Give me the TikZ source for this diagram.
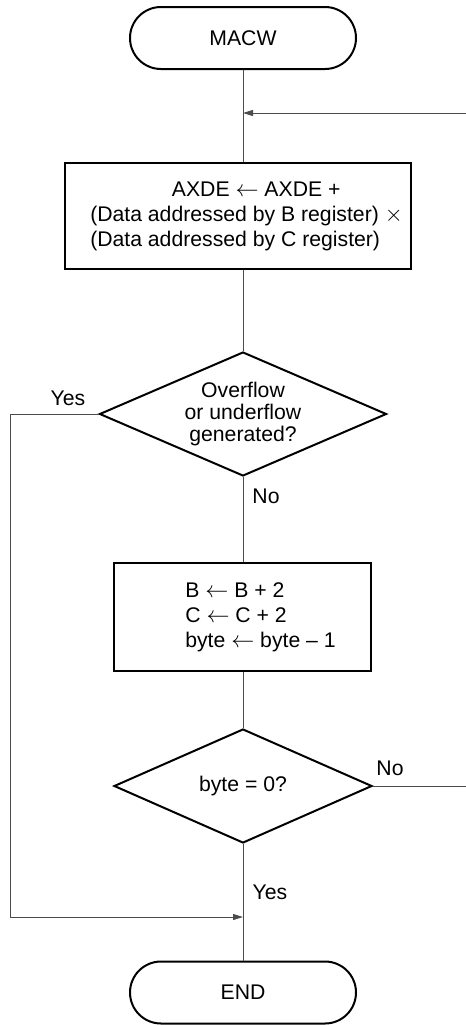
\documentclass[tikz,border=0pt]{standalone}
\usepackage{fontspec}
\setmainfont{Liberation Sans}
\usetikzlibrary{arrows.meta,shapes.geometric,calc}

\begin{document}
\begin{tikzpicture}[x=0.75pt,y=0.75pt,yscale=-1,xscale=1,
  font=\fontsize{15.9}{18.8}\selectfont,
  term/.style={draw,line width=1.5pt,rounded corners=23.25pt,minimum width=169.5pt,minimum height=46.5pt,inner sep=0pt},
  proc/.style={draw,line width=1.5pt,inner sep=0pt,align=left},
  decide/.style={draw,line width=1.5pt,diamond,aspect=2.3,inner sep=0pt,align=center,font=\fontsize{15.9}{16.5}\selectfont},
  flow/.style={line width=0.75pt,color=black!70},
  tip/.style={flow,-{Triangle[length=7.5pt,width=4.5pt]}},
  lbl/.style={inner sep=0.75pt}]
\useasboundingbox (0,0) rectangle (466,1025);

%Shape: Terminal
\node[term] (start) at (243,38) {MACW};
%Shape: Rectangle
\node[proc,minimum width=259.5pt,minimum height=79.5pt] (acc) at (238,216) {\hspace*{74pt}AXDE $\leftarrow$ AXDE +\\\hspace*{12.75pt}(Data addressed by B register) $\times$\\\hspace*{12.75pt}(Data addressed by C register)};
%Shape: Diamond
\node[decide,minimum width=215.25pt,minimum height=93pt] (ovf) at (243,414) {Overflow\\or underflow\\generated?};
%Shape: Rectangle
\node[proc,minimum width=192.75pt,minimum height=81pt] (upd) at (242.5,617) {\hspace*{27pt}B $\leftarrow$ B + 2\\\hspace*{27pt}C $\leftarrow$ C + 2\\\hspace*{27pt}byte $\leftarrow$ byte -- 1};
%Shape: Diamond
\node[decide,minimum width=193.5pt,minimum height=85.5pt] (cnt) at (243,786) {byte = 0?};
%Shape: Terminal
\node[term] (stop) at (243,992.5) {END};

\coordinate (loopin) at (466,113);
\coordinate (loopout) at (466,786);
\coordinate (merge) at (243,917);

%Straight Lines
\draw[flow] (start) -- (start |- acc.north);
\draw[tip] (loopin) -- (loopin -| start);
\draw[flow] (acc.south -| ovf) -- (ovf);
\draw[flow] (ovf) -- (ovf |- upd.north);
\draw[flow] (upd.south -| cnt) -- (cnt);
\draw[tip] (ovf.west) -- ++(-88,0) |- (merge);
\draw[flow] (cnt.east) -- (loopout);
\draw[flow] (cnt) -- (stop);

% Text Node
\node[lbl] (yesovf) at (68,398) {Yes};
% Text Node
\node[lbl] (noovf) at (266,496) {No};
% Text Node
\node[lbl] (nocnt) at (390,768) {No};
% Text Node
\node[lbl] (yescnt) at (270,892) {Yes};

\end{tikzpicture}
\end{document}
